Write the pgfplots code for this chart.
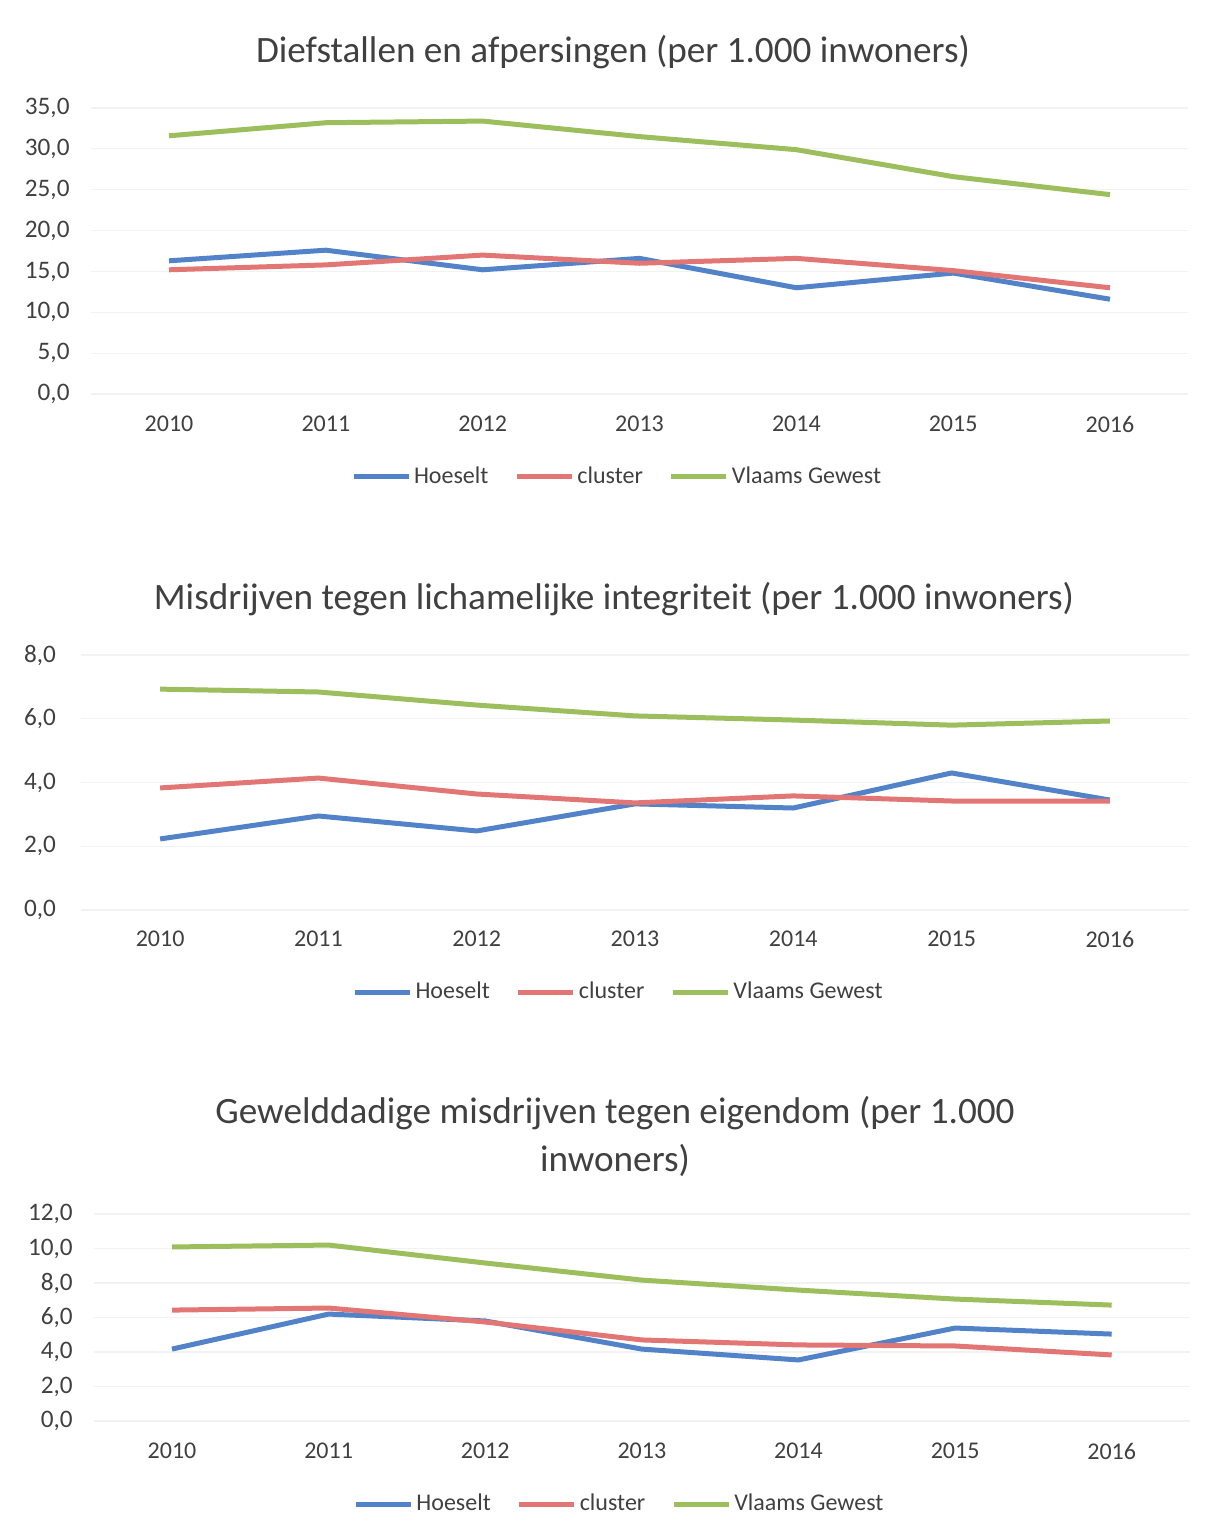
\documentclass[border=0pt]{standalone}
\usepackage{fontspec}
\setmainfont{Carlito}
\usepackage{pgfplots}
\pgfplotsset{compat=1.18}
\definecolor{cB}{RGB}{82,130,200}
\definecolor{cR}{RGB}{226,118,116}
\definecolor{cG}{RGB}{156,190,92}
\definecolor{txt}{HTML}{404040}
\pgfplotsset{
  mystyle/.style={
    scale only axis, clip=false,
    axis line style={draw=none}, major tick length=0pt,
    xmin=-0.5, xmax=6.5, xtick={0,...,6},
    xticklabels={2010,2011,2012,2013,2014,2015,2016},
    ymin=0, ymajorgrids, grid style={black!5, line width=0.6pt},
    xticklabel style={font=\fontsize{12}{14}\selectfont, text=txt, anchor=center, yshift=-15pt},
    yticklabel style={font=\fontsize{12.6}{15}\selectfont, text=txt, anchor=east, xshift=-7pt},
    /pgf/number format/.cd, use comma, fixed, fixed zerofill, precision=1, assume math mode=true,
    /pgfplots/.cd,
    every axis plot/.append style={line width=2.5pt, line join=round, no markers},
    legend columns=3,
    legend image code/.code={\draw[#1] (0pt,0pt) -- (27.5pt,0pt);},
    legend style={draw=none, fill=none, anchor=center,
      font=\fontsize{12}{14}\selectfont, text=txt,
      nodes={inner xsep=1.5pt},
      /tikz/every even column/.append style={column sep=11.5pt}},
  }
}
\begin{document}
\begin{tikzpicture}
\path[use as bounding box] (0pt,0pt) rectangle (607pt,-760.5pt);

% Chart 1
\node[font=\fontsize{18.6}{22}\selectfont, text=txt] at (306.5pt,-26pt) {Diefstallen en afpersingen (per 1.000 inwoners)};
\begin{axis}[mystyle, at={(45.3pt,-197pt)}, anchor=south west,
  width=548.9pt, height=143pt, ymax=35, ytick={0,5,...,35},
  legend style={at={(0.480,-0.290)}}]
\addplot[cB] coordinates {(0,16.3) (1,17.6) (2,15.2) (3,16.6) (4,13.0) (5,14.8) (6,11.6)};
\addplot[cR] coordinates {(0,15.2) (1,15.8) (2,17.0) (3,16.0) (4,16.6) (5,15.1) (6,13.0)};
\addplot[cG] coordinates {(0,31.6) (1,33.2) (2,33.4) (3,31.5) (4,29.9) (5,26.6) (6,24.4)};
\legend{Hoeselt,cluster,Vlaams Gewest}
\end{axis}

% Chart 2
\node[font=\fontsize{18.6}{22}\selectfont, text=txt] at (307pt,-299.5pt) {Misdrijven tegen lichamelijke integriteit (per 1.000 inwoners)};
\begin{axis}[mystyle, at={(40.5pt,-455pt)}, anchor=south west,
  width=554pt, height=127.5pt, ymax=8, ytick={0,2,...,8},
  xticklabel style={yshift=0.5pt},
  yticklabel style={xshift=-2pt},
  legend style={at={(0.4856,-0.3216)}}]
\addplot[cB] coordinates {(0,2.23) (1,2.95) (2,2.48) (3,3.33) (4,3.20) (5,4.30) (6,3.45)};
\addplot[cR] coordinates {(0,3.83) (1,4.14) (2,3.64) (3,3.36) (4,3.58) (5,3.42) (6,3.42)};
\addplot[cG] coordinates {(0,6.93) (1,6.84) (2,6.43) (3,6.09) (4,5.96) (5,5.80) (6,5.93)};
\legend{Hoeselt,cluster,Vlaams Gewest}
\end{axis}

% Chart 3
\node[font=\fontsize{18.6}{22}\selectfont, text=txt] at (307.5pt,-556.5pt) {Gewelddadige misdrijven tegen eigendom (per 1.000};
\node[font=\fontsize{18.6}{22}\selectfont, text=txt] at (307.5pt,-580pt) {inwoners)};
\begin{axis}[mystyle, at={(46.85pt,-710.5pt)}, anchor=south west,
  width=548.15pt, height=103.5pt, ymax=12, ytick={0,2,...,12},
  legend style={at={(0.480,-0.401)}}]
\addplot[cB] coordinates {(0,4.17) (1,6.2) (2,5.8) (3,4.17) (4,3.54) (5,5.39) (6,5.04)};
\addplot[cR] coordinates {(0,6.43) (1,6.55) (2,5.74) (3,4.70) (4,4.41) (5,4.35) (6,3.83)};
\addplot[cG] coordinates {(0,10.09) (1,10.2) (2,9.16) (3,8.17) (4,7.59) (5,7.07) (6,6.72)};
\legend{Hoeselt,cluster,Vlaams Gewest}
\end{axis}
\end{tikzpicture}
\end{document}
